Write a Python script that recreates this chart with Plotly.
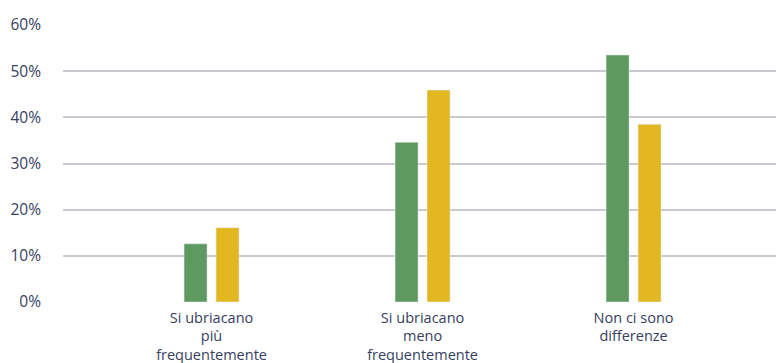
import plotly.graph_objects as go

categories = ["Si ubriacano<br>più<br>frequentemente",
              "Si ubriacano<br>meno<br>frequentemente",
              "Non ci sono<br>differenze"]
series_a = [12.6, 34.6, 53.5]
series_b = [16.1, 45.9, 38.5]
tick_vals = [0, 10, 20, 30, 40, 50, 60]
tick_text = ["0%", "10%", "20%", "30%", "40%", "50%", "60%"]

text_color = "#363e60"
fig = go.Figure()
fig.add_trace(go.Bar(x=categories, y=series_a, marker_color="#5e9960", showlegend=False))
fig.add_trace(go.Bar(x=categories, y=series_b, marker_color="#e3b721", showlegend=False))

fig.update_layout(
    width=776, height=363,
    margin=dict(l=63, r=0, t=25, b=61),
    paper_bgcolor="white", plot_bgcolor="white",
    barmode="group", bargap=0.697, bargroupgap=0.28,
    font=dict(family="Open Sans", size=15, color=text_color),
    xaxis=dict(range=[-0.704, 2.675], showgrid=False, zeroline=False, showline=False,
               ticks="", ticklabelstandoff=5, tickfont=dict(size=14.5),
               automargin=False),
    yaxis=dict(range=[0, 60], tickvals=tick_vals, ticktext=tick_text,
               showgrid=True, gridcolor="#c9c9d1", gridwidth=1.5,
               zeroline=False, showline=False, ticks="", ticklabelstandoff=21,
               tickfont=dict(size=15.5), automargin=False),
)
fig.write_html("out.html",
               config={"displayModeBar": False},
               post_script="document.body.style.margin='0';document.body.style.overflow='hidden';")
